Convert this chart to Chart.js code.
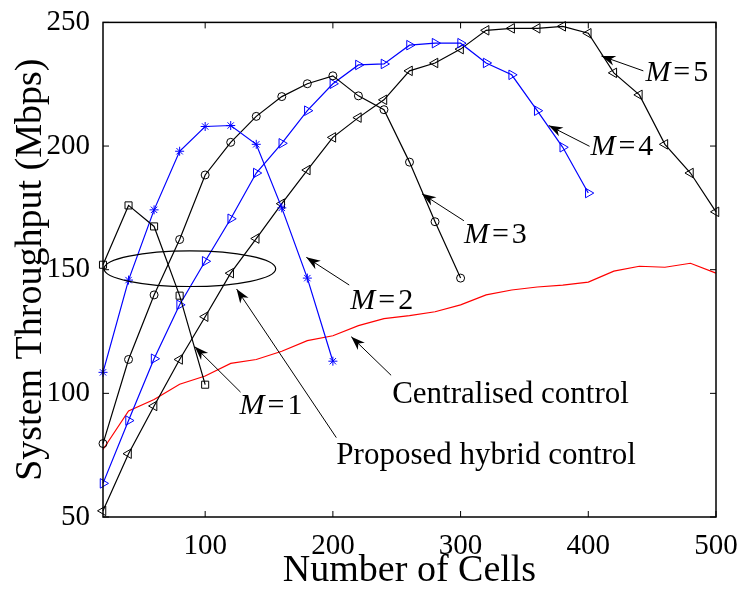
<!DOCTYPE html>
<html lang="en">
<head>
  <meta charset="UTF-8">
  <title>System Throughput vs Number of Cells</title>
  <script src="https://cdn.jsdelivr.net/npm/chart.js"></script>
  <style>
    html, body { margin: 0; padding: 0; background: #fff; }
    #wrap { width: 743px; height: 590px; }
  </style>
</head>
<body>
  <div id="wrap"><canvas id="graphique" width="743" height="590"></canvas></div>

  <script>
    // number of cells (x axis)
    const cells = [20, 40, 60, 80, 100, 120, 140, 160, 180, 200, 220, 240, 260, 280, 300,
                   320, 340, 360, 380, 400, 420, 440, 460, 480, 500];
    const xTicks = [100, 200, 300, 400, 500];
    const yTicks = [50, 100, 150, 200, 250];

    // throughput (Mbps) per cluster size M, hybrid control
    const m1 = [152, 176, 167.5, 139.5, 103.5];
    const m2 = [108.5, 145.8, 174.2, 197.9, 207.9, 208.3, 200.7, 175, 146.6, 113];
    const m3 = [79.7, 113.7, 139.8, 162.2, 188.3, 201.5, 212, 220, 225.2, 228.4,
                220.3, 214.7, 193.5, 169.4, 146.6];
    const m4 = [63.6, 89, 114, 135.8, 153.4, 170.6, 189.1, 201.1, 214.3, 225.2,
                232.8, 233.2, 240.8, 241.6, 241.6, 233.6, 228.8, 214.3, 199.5, 181];
    const m5 = [52.5, 75.6, 94.9, 113.7, 131, 148.6, 162.6, 176.7, 190.3, 203.5,
                211.5, 218.7, 230.4, 233.6, 239.2, 246.8, 247.6, 247.6, 248.4, 245.6,
                229.6, 220.7, 200.7, 189.1, 173.4];
    // centralised control
    const centralised = [77.3, 92.9, 97.5, 103.7, 107, 112.1, 113.7, 117, 121.3, 123.3,
                         127.4, 130.2, 131.4, 133, 135.8, 139.8, 141.8, 143, 143.8, 145,
                         149.4, 151.4, 151, 152.6, 148.6];

    // annotations: text anchor, arrow tail and tip, in data units
    const notes = [
      { m: '5', at: [444.7, 226.4], from: [443.1, 230.4], to: [410.3, 236.4] },
      { m: '4', at: [401.7, 196.3], from: [401, 199.9], to: [369, 208.3] },
      { m: '3', at: [302.6, 160.6], from: [302.6, 169.8], to: [269.8, 180.7] },
      { m: '2', at: [213.6, 134.2], from: [212.8, 143.8], to: [179.2, 155] },
      { m: '1', at: [126.9, 91.7], from: [127.7, 100.5], to: [91.8, 118.9] },
      { text: 'Centralised control', at: [246.4, 96.1], from: [245.6, 107.3], to: [214.4, 122.9] },
      { text: 'Proposed hybrid control', at: [202.7, 71.6], from: [202.7, 82.1], to: [124.6, 142.2] }
    ];
    const ellipse = { cx: 88, cy: 150.4, rx: 67.2, ry: 7.2 };

    const FONT = "'Liberation Serif', 'Times New Roman', serif";

    const pts = vals => vals.map((v, i) => ({ x: cells[i], y: v }));

    function serie(vals, color, style, radius, rotation) {
      return {
        data: pts(vals),
        borderColor: color,
        borderWidth: 1.2,
        pointStyle: style,
        pointRadius: radius,
        pointRotation: rotation || 0,
        pointBorderColor: color,
        pointBackgroundColor: 'rgba(0,0,0,0)',
        pointBorderWidth: 1,
        tension: 0,
        clip: false
      };
    }

    function arrow(ctx, x1, y1, x2, y2) {
      const a = Math.atan2(y2 - y1, x2 - x1);
      ctx.beginPath();
      ctx.moveTo(x1, y1);
      ctx.lineTo(x2, y2);
      ctx.stroke();
      const L = 14, W = 5;
      ctx.save();
      ctx.translate(x2, y2);
      ctx.rotate(a);
      ctx.beginPath();
      ctx.moveTo(0, 0);
      ctx.lineTo(-L, -W);
      ctx.lineTo(-L * 0.7, 0);
      ctx.lineTo(-L, W);
      ctx.closePath();
      ctx.fill();
      ctx.restore();
    }

    const decorations = {
      id: 'decorations',
      afterDraw(chart) {
        const { ctx, chartArea: ca, scales: { x, y } } = chart;
        ctx.save();
        ctx.strokeStyle = '#000';
        ctx.fillStyle = '#000';

        // ellipse around the M = 1 .. 5 curves
        ctx.lineWidth = 1.2;
        ctx.beginPath();
        const ex = x.getPixelForValue(ellipse.cx), ey = y.getPixelForValue(ellipse.cy);
        const erx = x.getPixelForValue(ellipse.cx + ellipse.rx) - ex;
        const ery = ey - y.getPixelForValue(ellipse.cy + ellipse.ry);
        ctx.ellipse(ex, ey, erx, ery, 0, 0, Math.PI * 2);
        ctx.stroke();

        // arrows and labels
        ctx.lineWidth = 1;
        ctx.textBaseline = 'alphabetic';
        ctx.textAlign = 'left';
        notes.forEach(n => {
          arrow(ctx, x.getPixelForValue(n.from[0]), y.getPixelForValue(n.from[1]),
                x.getPixelForValue(n.to[0]), y.getPixelForValue(n.to[1]));
          let tx = x.getPixelForValue(n.at[0]);
          const ty = y.getPixelForValue(n.at[1]);
          if (n.m) {
            ctx.font = 'italic 30px ' + FONT;
            ctx.fillText('M', tx, ty);
            tx += ctx.measureText('M').width + 3;
            ctx.font = '30px ' + FONT;
            ctx.fillText('=', tx, ty);
            tx += ctx.measureText('=').width + 3;
            ctx.fillText(n.m, tx, ty);
          } else {
            ctx.font = '31px ' + FONT;
            ctx.fillText(n.text, tx, ty);
          }
        });

        // axes box with inward ticks
        ctx.lineWidth = 1.5;
        ctx.strokeRect(ca.left, ca.top, ca.right - ca.left, ca.bottom - ca.top);
        ctx.lineWidth = 1;
        ctx.beginPath();
        xTicks.forEach(v => {
          const px = x.getPixelForValue(v);
          ctx.moveTo(px, ca.bottom); ctx.lineTo(px, ca.bottom - 6);
          ctx.moveTo(px, ca.top); ctx.lineTo(px, ca.top + 6);
        });
        yTicks.forEach(v => {
          const py = y.getPixelForValue(v);
          ctx.moveTo(ca.left, py); ctx.lineTo(ca.left + 6, py);
          ctx.moveTo(ca.right, py); ctx.lineTo(ca.right - 6, py);
        });
        ctx.stroke();
        ctx.restore();
      }
    };

    new Chart(document.getElementById('graphique').getContext('2d'), {
      type: 'line',
      data: {
        datasets: [
          serie(m1, '#000000', 'rect', 5),
          serie(m2, '#0000ff', 'star', 4.5),
          serie(m3, '#000000', 'circle', 4),
          serie(m4, '#0000ff', 'triangle', 5.5, 90),
          serie(m5, '#000000', 'triangle', 5.5, -90),
          serie(centralised, '#ff0000', 'circle', 0)
        ]
      },
      options: {
        responsive: false,
        animation: false,
        layout: { padding: { left: 0, right: 27, top: 18, bottom: 0 } },
        plugins: {
          legend: { display: false },
          tooltip: { enabled: false }
        },
        scales: {
          x: {
            type: 'linear',
            min: 20,
            max: 500,
            grid: { display: false },
            border: { display: false },
            afterBuildTicks: s => { s.ticks = xTicks.map(v => ({ value: v })); },
            afterFit: s => { s.height = 73; },
            ticks: {
              color: '#000',
              padding: 4,
              maxRotation: 0,
              font: { family: FONT, size: 29 }
            },
            title: {
              display: true,
              text: 'Number of Cells',
              color: '#000',
              padding: { top: 0, bottom: 0 },
              font: { family: FONT, size: 38, lineHeight: 1 }
            }
          },
          y: {
            min: 50,
            max: 250,
            grid: { display: false },
            border: { display: false },
            afterBuildTicks: s => { s.ticks = yTicks.map(v => ({ value: v })); },
            afterFit: s => { s.width = 103; },
            ticks: {
              color: '#000',
              padding: 5,
              font: { family: FONT, size: 29 }
            },
            title: {
              display: true,
              text: 'System Throughput (Mbps)',
              color: '#000',
              padding: { top: 12, bottom: 0 },
              font: { family: FONT, size: 38, lineHeight: 1 }
            }
          }
        }
      },
      plugins: [decorations]
    });
  </script>
</body>
</html>
